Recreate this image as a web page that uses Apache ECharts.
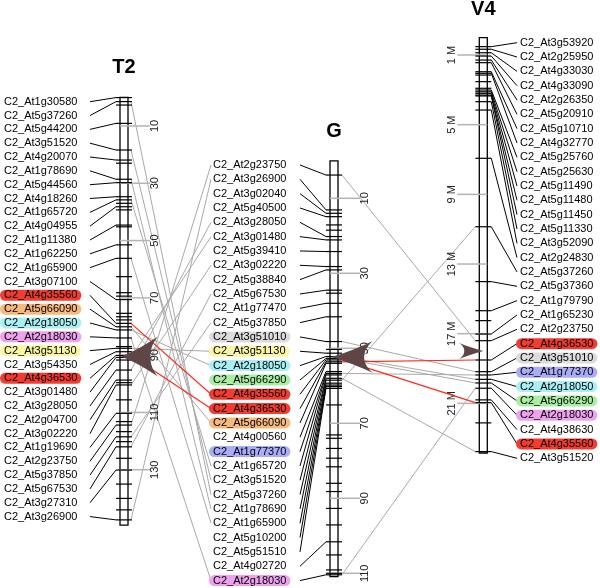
<!DOCTYPE html>
<html><head><meta charset="utf-8">
<script src="https://cdn.jsdelivr.net/npm/echarts@6/dist/echarts.min.js"></script>
<style>html,body{margin:0;padding:0;background:#fff}#c{width:600px;height:588px}</style>
</head><body><div id="c"></div>
<script>
// ---------------- DATA ----------------
const t2Genes = ['C2_At1g30580','C2_At5g37260','C2_At5g44200','C2_At3g51520','C2_At4g20070','C2_At1g78690','C2_At5g44560','C2_At4g18260','C2_At1g65720','C2_At4g04955','C2_At1g11380','C2_At1g62250','C2_At1g65900','C2_At3g07100','C2_At4g35560','C2_At5g66090','C2_At2g18050','C2_At2g18030','C2_At3g51130','C2_At3g54350','C2_At4g36530','C2_At3g01480','C2_At3g28050','C2_At2g04700','C2_At3g02220','C2_At1g19690','C2_At2g23750','C2_At5g37850','C2_At5g67530','C2_At3g27310','C2_At3g26900'];
const t2Pos = [0.1,1.5,9.1,18.4,21.9,28.6,29.8,34.7,35.8,38.2,44.6,51.5,56.2,70.6,78.9,80.1,81.2,84.0,87.6,88.8,90.1,90.8,95.2,98.7,100.4,110.3,114.4,118.5,122.0,130.1,147.5];
const t2Extra = [2.7,23.0,37.0,39.3,45.2,62.6,68.2,69.4,75.4,76.6,77.7,87.0,91.7,99.6,105.6,113.2,116.7,120.2,126,135,140,144];
const t2ScaleTicks = [10,30,50,70,90,110,130];
const t2ScaleLabels = ['10','30','50','70','90','110','130'];
const t2Length = 149.3;
const t2Arrow = 90.5;

const gGenes = ['C2_At2g23750','C2_At3g26900','C2_At3g02040','C2_At5g40500','C2_At3g28050','C2_At3g01480','C2_At5g39410','C2_At3g02220','C2_At5g38840','C2_At5g67530','C2_At1g77470','C2_At5g37850','C2_At3g51010','C2_At3g51130','C2_At2g18050','C2_At5g66290','C2_At4g35560','C2_At4g36530','C2_At5g66090','C2_At4g00560','C2_At1g77370','C2_At1g65720','C2_At3g51520','C2_At5g37260','C2_At1g78690','C2_At1g65900','C2_At5g10200','C2_At5g51510','C2_At4g02720','C2_At2g18030'];
const gPos = [3.8,13.1,14.0,14.9,20.2,21.1,24.2,28.2,29.1,34.5,38.0,41.6,48.2,51.3,52.2,52.7,53.1,53.6,54.0,56.2,56.7,57.1,58.0,58.5,59.3,59.8,60.2,60.7,101.6,110.4];
const gExtra = [17.1,18.5,35.3,50.3,65.1,73.1,74.0,76.7,79.3,81.6,86.0,88.2,92.7,97.1,105.1,109.1,110.0];
const gScaleTicks = [10,30,50,70,90,110];
const gScaleLabels = ['10','30','50','70','90','110'];
const gLength = 110.9;
const gArrow = 52.3;

const v4Genes = ['C2_At3g53920','C2_At2g25950','C2_At4g33030','C2_At4g33090','C2_At2g26350','C2_At5g20910','C2_At5g10710','C2_At4g32770','C2_At5g25760','C2_At5g25630','C2_At5g11490','C2_At5g11480','C2_At5g11450','C2_At5g11330','C2_At3g52090','C2_At2g24830','C2_At5g37260','C2_At5g37360','C2_At1g79790','C2_At1g65230','C2_At2g23750','C2_At4g36530','C2_At3g51010','C2_At1g77370','C2_At2g18050','C2_At5g66290','C2_At2g18030','C2_At4g38630','C2_At4g35560','C2_At3g51520'];
const v4Pos = [0.52,0.67,0.87,1.06,1.29,1.44,1.96,2.05,3.01,3.11,3.20,3.30,3.35,3.68,4.16,6.93,10.86,14.01,15.68,17.02,17.40,18.51,19.18,19.37,19.62,19.83,20.13,20.80,20.96,23.77];
const v4Extra = [2.15,2.53,2.91,16.25,22.12];
const v4ScaleTicks = [1,5,9,13,17,21];
const v4ScaleLabels = ['1 M','5 M','9 M','13 M','17 M','21 M'];
const v4Length = 23.85;
const v4Arrow = 18.0;

const highlightGenes = ['C2_At4g35560','C2_At4g36530','C2_At5g66090','C2_At2g18050','C2_At2g18030','C2_At3g51130','C2_At3g51010','C2_At5g66290','C2_At1g77370'];
const highlightColors = ['#f23c30','#f23c30','#f8b97c','#a9f0f4','#eea2ee','#f9f7a4','#dcdcdc','#a9eea2','#a9acf6'];
const redGenes = ['C2_At4g35560','C2_At4g36530'];

// ---------------- LAYOUT / STYLE ----------------
const FONT = '11px "Liberation Sans", Arial, sans-serif';
const hl = {};
highlightGenes.forEach((g,i)=>hl[g]=highlightColors[i]);

const chroms = [
  {name:'T2', axis:1, cx:124, genes:t2Genes, pos:t2Pos, extra:t2Extra, ticks:t2ScaleTicks, tickLabels:t2ScaleLabels, len:t2Length,
   labelSide:'left', textX:4, lineX:90, labelTop:101.7, labelStep:13.83, scaleSide:'right', titleY:67, arrow:t2Arrow, arrowW:37, arrowH:40, arrowDir:'left'},
  {name:'G', axis:2, cx:334, genes:gGenes, pos:gPos, extra:gExtra, ticks:gScaleTicks, tickLabels:gScaleLabels, len:gLength,
   labelSide:'left', textX:213, lineX:300, labelTop:165, labelStep:14.33, scaleSide:'right', titleY:131, arrow:gArrow, arrowW:42, arrowH:32, arrowDir:'left'},
  {name:'V4', axis:3, cx:483.3, genes:v4Genes, pos:v4Pos, extra:v4Extra, ticks:v4ScaleTicks, tickLabels:v4ScaleLabels, len:v4Length,
   labelSide:'right', textX:520, lineX:517, labelTop:42.7, labelStep:14.33, scaleSide:'left', titleY:9, arrow:v4Arrow, arrowW:24, arrowH:16, arrowDir:'right'}
];

const HALF = 4, TICK = 8;
const series = [];
const arrowLeft = 'path://M0,50 C35,38 70,18 100,0 C72,30 72,70 100,100 C70,82 35,62 0,50 Z';
const arrowRight = 'path://M100,50 C65,38 30,18 0,0 C28,30 28,70 0,100 C30,82 65,62 100,50 Z';

chroms.forEach(c => {
  series.push({type:'custom', id:c.name+'-body', xAxisIndex:0, yAxisIndex:c.axis, z:2, silent:true,
    data:[[c.cx, 0, c.len]],
    renderItem:(p, api) => {
      const a = api.coord([api.value(0), api.value(1)]);
      const b = api.coord([api.value(0), api.value(2)]);
      return {type:'rect', shape:{x:a[0]-HALF, y:a[1], width:HALF*2, height:b[1]-a[1]},
        style:{fill:'#fff', stroke:'#000', lineWidth:1.3}};
    }});
  series.push({type:'custom', id:c.name+'-scale', xAxisIndex:0, yAxisIndex:c.axis, z:3, silent:true,
    data:c.ticks.map((t,i)=>[c.cx, t, i]),
    renderItem:(p, api) => {
      const q = api.coord([api.value(0), api.value(1)]);
      const lab = c.tickLabels[api.value(2)];
      let x1, x2, tx;
      if (c.scaleSide === 'right') { x1 = q[0]-HALF; x2 = q[0]+26; tx = q[0]+31; }
      else { x1 = q[0]-26; x2 = q[0]+HALF; tx = q[0]-31; }
      return {type:'group', children:[
        {type:'line', shape:{x1:x1, y1:q[1], x2:x2, y2:q[1]}, style:{stroke:'#b4b4b4', lineWidth:1.5}},
        {type:'text', x:tx, y:q[1], rotation:Math.PI/2,
          style:{text:lab, font:FONT, fill:'#222', align:'center', verticalAlign:'middle'}}
      ]};
    }});
  series.push({type:'custom', id:c.name+'-marks', xAxisIndex:0, yAxisIndex:c.axis, z:4, silent:true,
    data:c.pos.concat(c.extra).map(v=>[c.cx, v]),
    renderItem:(p, api) => {
      const q = api.coord([api.value(0), api.value(1)]);
      return {type:'line', shape:{x1:q[0]-TICK, y1:q[1], x2:q[0]+TICK, y2:q[1]},
        style:{stroke:'#000', lineWidth:1.2}};
    }});
  series.push({type:'custom', id:c.name+'-labels', xAxisIndex:0, yAxisIndex:c.axis, z:5, silent:true,
    data:c.pos.map((v,i)=>[c.cx, v, i]),
    renderItem:(p, api) => {
      const q = api.coord([api.value(0), api.value(1)]);
      const i = api.value(2);
      const ly = c.labelTop + i*c.labelStep;
      const gene = c.genes[i];
      let line;
      if (c.labelSide === 'left') line = {x1:c.lineX, y1:ly, x2:q[0]-TICK, y2:q[1]};
      else line = {x1:q[0]+TICK, y1:q[1], x2:c.lineX, y2:ly};
      const st = {text:gene, font:FONT, fill:'#000', align:'left', verticalAlign:'middle', padding:[0,4,0,4], borderRadius:6};
      if (hl[gene]) st.backgroundColor = hl[gene];
      return {type:'group', children:[
        {type:'line', shape:line, style:{stroke:'#000', lineWidth:1}},
        {type:'text', x:c.textX-4, y:ly, style:st}
      ]};
    }});
  series.push({type:'scatter', id:c.name+'-arrow', xAxisIndex:0, yAxisIndex:c.axis, z:20, silent:true,
    symbol: c.arrowDir==='left' ? arrowLeft : arrowRight,
    symbolSize:[c.arrowW, c.arrowH], symbolKeepAspect:false,
    symbolOffset: c.arrowDir==='left' ? [c.arrowW/2, 0] : [-c.arrowW/2, 0],
    itemStyle:{color:'#5e4646', opacity:1},
    data:[[c.arrowDir==='left' ? c.cx-3 : c.cx, c.arrow]]});
});

const chart = echarts.init(document.getElementById('c'), null, {renderer:'canvas'});
const option = {
  animation:false,
  backgroundColor:'#fff',
  grid:{left:0, right:0, top:0, bottom:0, containLabel:false},
  xAxis:{type:'value', min:0, max:600, show:false},
  yAxis:[
    {type:'value', min:0, max:588, inverse:true, show:false},
    {type:'value', min:-33.96, max:171.27, inverse:true, show:false},
    {type:'value', min:-42.88, max:113.92, inverse:true, show:false},
    {type:'value', min:-2.158, max:31.6, inverse:true, show:false}
  ],
  graphic: chroms.map(c => ({type:'text', x:c.cx, y:c.titleY, z:10,
    style:{text:c.name, font:'bold 20px "Liberation Sans", Arial, sans-serif', fill:'#000', align:'center', verticalAlign:'middle'}})),
  series: series
};
chart.setOption(option);

// ---------------- CONNECTIONS (via the library's scales) ----------------
const T2 = chroms[0], G = chroms[1], V4 = chroms[2];
function pix(c, v) { return chart.convertToPixel({xAxisIndex:0, yAxisIndex:c.axis}, [c.cx, v]); }
const grayLinks = [], redLinks = [];
T2.genes.forEach((g, i) => {
  const j = G.genes.indexOf(g);
  if (j < 0) return;
  const a = pix(T2, T2.pos[i]);
  const link = {coords:[[a[0]+7, a[1]], [G.textX-2, G.labelTop + j*G.labelStep]]};
  (redGenes.includes(g) ? redLinks : grayLinks).push(link);
});
G.genes.forEach((g, j) => {
  const k = V4.genes.indexOf(g);
  if (k < 0) return;
  const a = pix(G, G.pos[j]);
  const b = pix(V4, V4.pos[k]);
  const link = {coords:[[a[0]+TICK, a[1]], [b[0]-TICK, b[1]]]};
  (redGenes.includes(g) ? redLinks : grayLinks).push(link);
});
chart.setOption({series:[
  {type:'lines', id:'gray-links', coordinateSystem:'cartesian2d', xAxisIndex:0, yAxisIndex:0, z:1, silent:true,
   lineStyle:{color:'#a9a9a9', width:1, opacity:1}, data:grayLinks},
  {type:'lines', id:'red-links', coordinateSystem:'cartesian2d', xAxisIndex:0, yAxisIndex:0, z:6, silent:true,
   lineStyle:{color:'#ff2a1c', width:1.2, opacity:1}, data:redLinks}
]});
</script>
</body></html>
